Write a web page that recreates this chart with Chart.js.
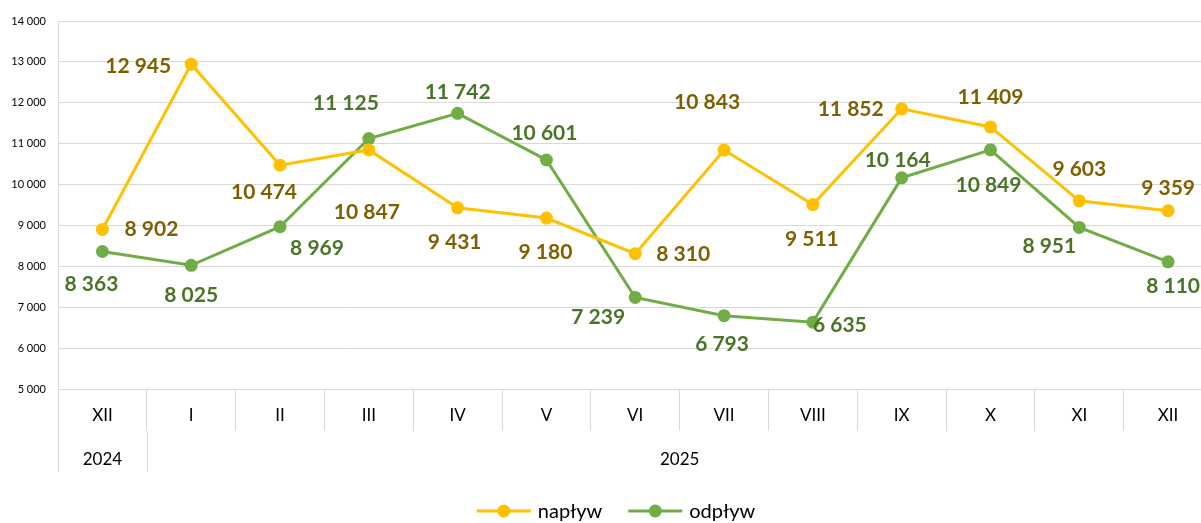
<!DOCTYPE html>
<html>
<head>
<meta charset="utf-8">
<script src="https://cdn.jsdelivr.net/npm/chart.js@4.4.1/dist/chart.umd.min.js"></script>
<style>
  html, body { margin: 0; padding: 0; background: #fff; overflow: hidden; }
  #wrap { position: absolute; left: 0; top: 0; width: 1219px; height: 523px; }
</style>
</head>
<body>
<div id="wrap"><canvas id="chart" width="1219" height="523"></canvas></div>
<script>
// Dane
const months = ['XII', 'I', 'II', 'III', 'IV', 'V', 'VI', 'VII', 'VIII', 'IX', 'X', 'XI', 'XII'];
const yearLabels = ['2024', '2025'];
const yearSpans = [1, 12];
const naplyw = [8902, 12945, 10474, 10847, 9431, 9180, 8310, 10843, 9511, 11852, 11409, 9603, 9359];
const odplyw = [8363, 8025, 8969, 11125, 11742, 10601, 7239, 6793, 6635, 10164, 10849, 8951, 8110];

// przesunięcia etykiet danych (px) względem punktu
const naplywOffsets = [[49, 0], [-53, 2], [-16, 27], [-2, 62], [-3, 34], [-1, 34], [48, 1], [-17, -48], [-1, 35], [-51, 0], [0, -30], [0, -32], [0, -23]];
const odplywOffsets = [[-11, 33], [0, 30], [37, 22], [-23, -35], [0, -21], [-2, -27], [-37, 20], [-2, 29], [27, 3], [-4, -18], [-2, 35], [-30, 19], [5, 24]];

const fmt = v => String(v).replace(/\B(?=(\d{3})+(?!\d))/g, ' ');
const FONT = 'Lato, "DejaVu Sans", sans-serif';

// Etykiety wartości
const valueLabels = {
    id: 'valueLabels',
    afterDatasetsDraw(chart) {
        const ctx = chart.ctx;
        ctx.save();
        ctx.font = 'bold 21px ' + FONT;
        ctx.textAlign = 'center';
        ctx.textBaseline = 'middle';
        chart.data.datasets.forEach((ds, di) => {
            const meta = chart.getDatasetMeta(di);
            ctx.fillStyle = ds.labelColor;
            meta.data.forEach((pt, i) => {
                const off = ds.labelOffsets[i];
                ctx.fillText(fmt(ds.data[i]), pt.x + off[0], pt.y + off[1]);
            });
        });
        ctx.restore();
    }
};

// Wiersz z latami pod osią X + legenda
const yearRow = {
    id: 'yearRow',
    afterDraw(chart) {
        const ctx = chart.ctx;
        const x = chart.scales.x;
        const bottom = chart.chartArea.bottom;
        const half = (x.getPixelForTick(1) - x.getPixelForTick(0)) / 2;
        ctx.save();
        ctx.strokeStyle = '#d9d9d9';
        ctx.lineWidth = 1;
        ctx.fillStyle = '#000';
        ctx.font = '17px ' + FONT;
        ctx.textAlign = 'center';
        ctx.textBaseline = 'middle';
        let start = 0;
        yearSpans.forEach((span, k) => {
            const left = x.getPixelForTick(start) - half;
            const right = Math.min(x.getPixelForTick(start + span - 1) + half, x.right);
            ctx.beginPath();
            ctx.moveTo(Math.round(left) + 0.5, bottom + 42);
            ctx.lineTo(Math.round(left) + 0.5, bottom + 83);
            ctx.stroke();
            ctx.fillText(yearLabels[k], (left + right) / 2, bottom + 71);
            start += span;
        });
        const firstEnd = x.getPixelForTick(0) + half;
        ctx.beginPath();
        ctx.moveTo(Math.round(firstEnd) + 0.5, bottom + 42);
        ctx.lineTo(Math.round(firstEnd) + 0.5, bottom + 83);
        ctx.stroke();

        // legenda
        ctx.font = '20px ' + FONT;
        ctx.textAlign = 'left';
        const items = chart.data.datasets.map(ds => ({ label: ds.label, color: ds.borderColor, w: ctx.measureText(ds.label).width }));
        const lineW = 54, gap = 7, itemGap = 26;
        const total = items.reduce((a, it) => a + lineW + gap + it.w, 0) + itemGap * (items.length - 1);
        let lx = 616 - total / 2;
        const ly = 511;
        items.forEach(it => {
            ctx.strokeStyle = it.color;
            ctx.lineWidth = 3;
            ctx.beginPath();
            ctx.moveTo(lx, ly);
            ctx.lineTo(lx + lineW, ly);
            ctx.stroke();
            ctx.fillStyle = it.color;
            ctx.beginPath();
            ctx.arc(lx + lineW / 2, ly, 6.5, 0, Math.PI * 2);
            ctx.fill();
            ctx.fillStyle = '#000';
            ctx.fillText(it.label, lx + lineW + gap, ly + 1);
            lx += lineW + gap + it.w + itemGap;
        });
        ctx.restore();
    }
};

new Chart(document.getElementById('chart'), {
    type: 'line',
    data: {
        labels: months,
        datasets: [
            {
                label: 'napływ',
                data: naplyw,
                borderColor: '#FFC000',
                backgroundColor: '#FFC000',
                borderWidth: 3,
                pointRadius: 6.5,
                pointBackgroundColor: '#FFC000',
                pointBorderWidth: 0,
                tension: 0,
                labelColor: '#7F6000',
                labelOffsets: naplywOffsets
            },
            {
                label: 'odpływ',
                data: odplyw,
                borderColor: '#70AD47',
                backgroundColor: '#70AD47',
                borderWidth: 3,
                pointRadius: 6.5,
                pointBackgroundColor: '#70AD47',
                pointBorderWidth: 0,
                tension: 0,
                labelColor: '#4A7526',
                labelOffsets: odplywOffsets
            }
        ]
    },
    options: {
        responsive: false,
        animation: false,
        layout: { padding: { top: 21, left: 0, right: 0, bottom: 0 } },
        plugins: {
            legend: { display: false },
            tooltip: { enabled: false }
        },
        scales: {
            x: {
                offset: true,
                grid: {
                    offset: true,
                    drawOnChartArea: false,
                    drawTicks: true,
                    tickLength: 42,
                    color: '#d9d9d9',
                    tickColor: '#d9d9d9'
                },
                border: { display: false },
                ticks: {
                    color: '#000',
                    font: { family: FONT, size: 17 },
                    padding: -26,
                    maxRotation: 0,
                    autoSkip: false
                },
                afterFit(s) { s.height = 134; }
            },
            y: {
                min: 5000,
                max: 14000,
                grid: { color: '#d9d9d9', drawTicks: false },
                border: { display: true, color: '#d9d9d9' },
                ticks: {
                    stepSize: 1000,
                    color: '#000',
                    padding: 12,
                    font: { family: FONT, size: 11 },
                    callback: v => fmt(v)
                },
                afterFit(s) { s.width = 58; }
            }
        }
    },
    plugins: [valueLabels, yearRow]
});
</script>
</body>
</html>
